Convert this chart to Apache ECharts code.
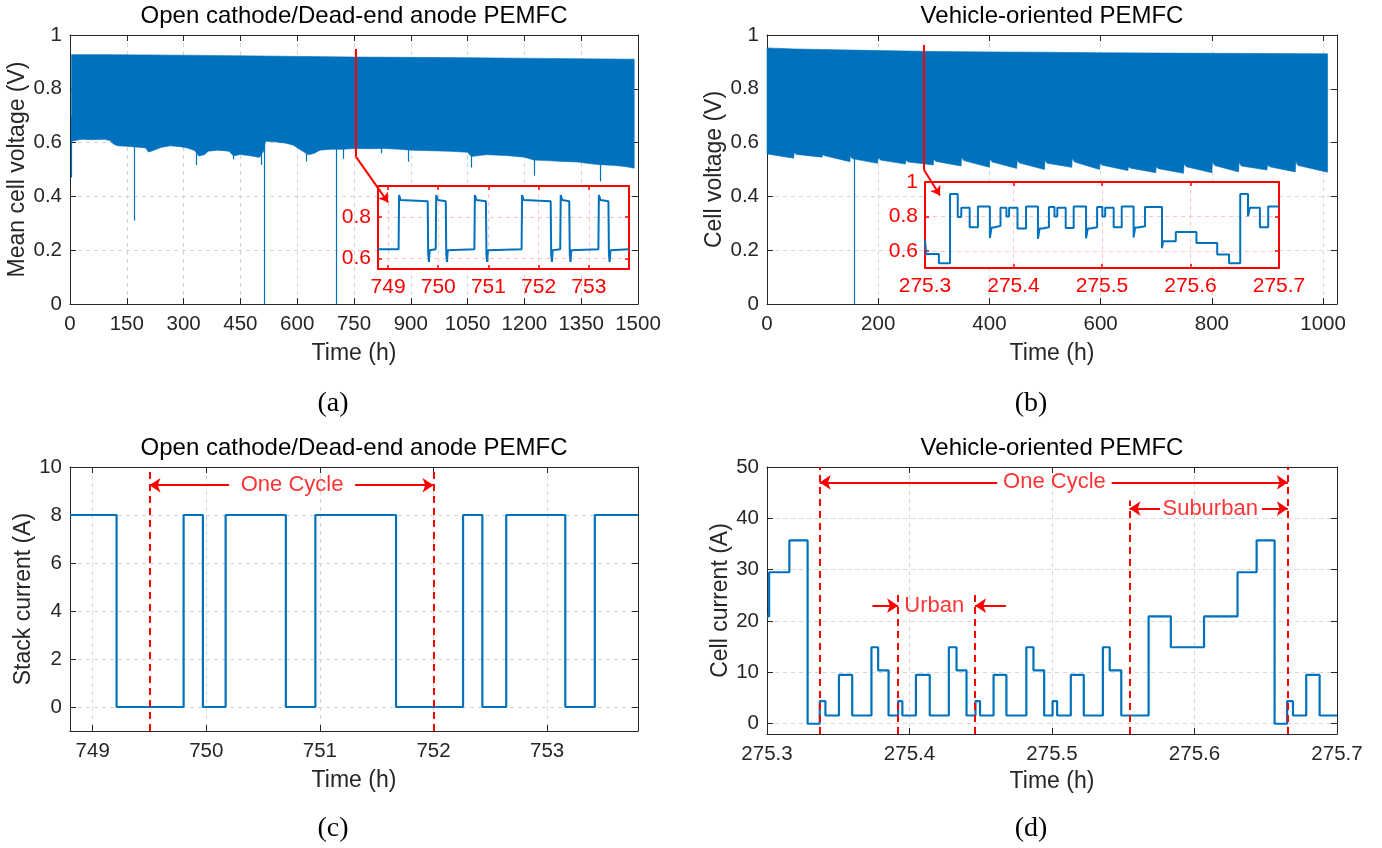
<!DOCTYPE html>
<html>
<head>
<meta charset="utf-8">
<script src="https://cdn.jsdelivr.net/npm/echarts@6/dist/echarts.min.js"></script>
<style>
  html, body { margin: 0; padding: 0; background: #fff; }
  #chart { width: 1382px; height: 848px; }
</style>
</head>
<body>
<div id="chart"></div>
<script>
// ---------------- data ----------------
// (a) open cathode / dead-end anode stack: envelope of the mean cell voltage band (h, V)
const aUpperTime = [4, 100, 300, 500, 750, 1000, 1250, 1490];
const aUpperVolt = [0.927, 0.927, 0.925, 0.922, 0.918, 0.916, 0.913, 0.910];
const aLowerTime = [4, 30, 60, 90, 105, 115, 125, 150, 180, 200, 207, 215, 240, 265, 290, 310, 330, 340, 355, 365, 390, 420, 432, 450, 480, 500, 512, 516, 540, 570, 590, 610, 630, 645, 660, 690, 720, 750, 790, 830, 870, 900, 950, 1000, 1050, 1060, 1080, 1100, 1150, 1200, 1225, 1260, 1300, 1340, 1370, 1400, 1440, 1470, 1490];
const aLowerVolt = [0.605, 0.612, 0.611, 0.612, 0.608, 0.595, 0.588, 0.586, 0.583, 0.580, 0.565, 0.568, 0.582, 0.588, 0.585, 0.580, 0.570, 0.550, 0.555, 0.568, 0.572, 0.568, 0.550, 0.556, 0.550, 0.545, 0.570, 0.605, 0.603, 0.598, 0.590, 0.572, 0.555, 0.560, 0.572, 0.575, 0.575, 0.578, 0.577, 0.578, 0.575, 0.572, 0.570, 0.568, 0.564, 0.548, 0.552, 0.555, 0.552, 0.546, 0.535, 0.533, 0.530, 0.528, 0.522, 0.518, 0.515, 0.510, 0.505];
// isolated downward spikes below the band (h, lowest V)
const aSpikeTime = [3, 169, 334, 431, 504, 512, 625, 704, 722, 823, 892, 1059, 1226, 1400];
const aSpikeVolt = [0.47, 0.31, 0.517, 0.538, 0.517, 0, 0.53, 0, 0.54, 0.56, 0.529, 0.507, 0.477, 0.455];

// (b) vehicle-oriented stack: cell voltage band (h, V)
const bUpperTime = [0, 50, 100, 200, 300, 400, 500, 600, 800, 1008];
const bUpperVolt = [0.952, 0.948, 0.946, 0.942, 0.939, 0.937, 0.936, 0.934, 0.932, 0.930];
const bLowerTime = [0, 48, 49, 53, 99, 100, 104, 149, 150, 154, 199, 200, 204, 249, 250, 254, 299, 300, 304, 349, 350, 354, 400, 401, 405, 449, 450, 454, 499, 500, 504, 548, 549, 553, 598, 599, 603, 649, 650, 654, 699, 700, 704, 749, 750, 754, 800, 801, 805, 848, 849, 853, 899, 900, 904, 950, 951, 955, 1008];
const bLowerVolt = [0.558, 0.542, 0.563, 0.556, 0.546, 0.555, 0.551, 0.529, 0.548, 0.540, 0.523, 0.544, 0.535, 0.520, 0.535, 0.528, 0.517, 0.538, 0.530, 0.513, 0.545, 0.533, 0.508, 0.538, 0.528, 0.504, 0.533, 0.524, 0.500, 0.533, 0.523, 0.508, 0.542, 0.528, 0.500, 0.523, 0.516, 0.496, 0.510, 0.505, 0.488, 0.510, 0.503, 0.486, 0.520, 0.510, 0.488, 0.529, 0.515, 0.491, 0.527, 0.513, 0.498, 0.517, 0.510, 0.491, 0.529, 0.515, 0.490];
const bSpikeTime = [156];
const bSpikeVolt = [0];

// (a) inset: voltage over one cycle window (h, V)
const aInsetTime = [748.80, 749.21, 749.22, 749.25, 749.79, 749.80, 749.815, 749.83, 749.95, 749.96, 749.99, 750.15, 750.16, 750.175, 750.19, 750.72, 750.73, 750.76, 750.95, 750.96, 750.975, 750.99, 751.66, 751.67, 751.70, 752.24, 752.25, 752.265, 752.28, 752.43, 752.44, 752.47, 752.61, 752.62, 752.635, 752.65, 753.19, 753.20, 753.23, 753.39, 753.40, 753.415, 753.43, 753.80];
const aInsetVolt = [0.645, 0.645, 0.907, 0.882, 0.877, 0.620, 0.584, 0.640, 0.645, 0.907, 0.882, 0.877, 0.620, 0.584, 0.640, 0.645, 0.907, 0.882, 0.877, 0.620, 0.584, 0.640, 0.645, 0.907, 0.882, 0.877, 0.620, 0.584, 0.640, 0.645, 0.907, 0.882, 0.877, 0.620, 0.584, 0.640, 0.645, 0.907, 0.882, 0.877, 0.620, 0.584, 0.640, 0.645];

// (b) inset: cell voltage over one drive cycle (h, V), held until the next entry
const bInsetTime = [275.3000, 275.3012, 275.3157, 275.3283, 275.3370, 275.3410, 275.3505, 275.3598, 275.3733, 275.3752, 275.3780, 275.3853, 275.3920, 275.3950, 275.4045, 275.4142, 275.4276, 275.4295, 275.4330, 275.4400, 275.4463, 275.4495, 275.4590, 275.4680, 275.4820, 275.4840, 275.4870, 275.4945, 275.5004, 275.5036, 275.5132, 275.5223, 275.5357, 275.5375, 275.5405, 275.5486, 275.5678, 275.5690, 275.5834, 275.6067, 275.6302, 275.6436, 275.6562, 275.6650, 275.6670, 275.6784, 275.6878, 275.7000];
const bInsetVolt = [0.665, 0.582, 0.527, 0.930, 0.796, 0.851, 0.737, 0.857, 0.675, 0.735, 0.745, 0.851, 0.800, 0.851, 0.730, 0.857, 0.670, 0.730, 0.737, 0.855, 0.800, 0.851, 0.733, 0.857, 0.672, 0.730, 0.737, 0.855, 0.800, 0.851, 0.737, 0.857, 0.678, 0.735, 0.743, 0.855, 0.615, 0.655, 0.710, 0.645, 0.578, 0.527, 0.930, 0.800, 0.851, 0.737, 0.857, 0.857];

// (c) stack current profile (h, A), held until the next entry
const cTime = [748.8, 749.21, 749.80, 749.97, 750.17, 750.70, 750.96, 751.67, 752.26, 752.43, 752.64, 753.16, 753.42, 753.8];
const cCurrent = [8, 0, 8, 0, 8, 0, 8, 0, 8, 0, 8, 0, 8, 8];

// (d) cell current profile (h, A), held until the next entry
const dTime = [275.3000, 275.3015, 275.3157, 275.3285, 275.3370, 275.3410, 275.3505, 275.3598, 275.3733, 275.3780, 275.3853, 275.3920, 275.3950, 275.4045, 275.4142, 275.4276, 275.4330, 275.4400, 275.4463, 275.4495, 275.4590, 275.4680, 275.4820, 275.4870, 275.4945, 275.5004, 275.5036, 275.5132, 275.5223, 275.5357, 275.5405, 275.5486, 275.5678, 275.5834, 275.6067, 275.6302, 275.6436, 275.6562, 275.6650, 275.6691, 275.6784, 275.6878, 275.7000];
const dCurrent = [20.9, 29.5, 35.7, 0, 4.4, 1.6, 9.5, 1.6, 14.9, 10.4, 1.6, 4.4, 1.6, 9.5, 1.6, 14.9, 10.4, 1.6, 4.4, 1.6, 9.5, 1.6, 14.9, 10.4, 1.6, 4.4, 1.6, 9.5, 1.6, 14.9, 10.4, 1.6, 20.9, 14.9, 20.9, 29.5, 35.7, 0, 4.4, 1.6, 9.5, 1.6, 1.6];

// cycle markers
const cCycleBounds = [749.5, 752.0];
const dCycleBounds = [275.337, 275.6655];
const dUrbanBounds = [275.392, 275.446];
const dSuburbanStart = 275.5544;

// ---------------- styling ----------------
const BLUE = '#0072BD';
const RED = '#FF0000';
const AX = '#262626';
const GRIDC = '#d4d4d4';
const FONT = '"Liberation Sans", Arial, Helvetica, sans-serif';
const SERIF = '"Liberation Serif", "Times New Roman", serif';

const grids = [
  { left: 70,  top: 35,  width: 568, height: 269 },   // (a)
  { left: 767, top: 35,  width: 570, height: 269 },   // (b)
  { left: 70,  top: 467, width: 568, height: 264 },   // (c)
  { left: 767, top: 467, width: 570, height: 267 },   // (d)
  { left: 378, top: 186, width: 251, height: 83, z: 3, show: true, backgroundColor: '#fff', borderWidth: 0 },  // (a) inset
  { left: 925, top: 182, width: 354, height: 86, z: 3, show: true, backgroundColor: '#fff', borderWidth: 0 }   // (b) inset
].map(g => Object.assign({ containLabel: false, outerBoundsMode: 'none' }, g));

const xAxes = [];
const yAxes = [];

function fmtStep(step, digits) {
  return v => {
    const k = v / step;
    if (Math.abs(k - Math.round(k)) > 1e-6) return '';
    return String(Number(v.toFixed(digits)));
  };
}

function addAxes(g, xs, ys, inset) {
  const col = inset ? RED : AX;
  const lw = inset ? 2 : 1;
  const z = inset ? 4 : 0;
  const split = { show: true, lineStyle: { color: inset ? '#ffc4c4' : GRIDC, type: [4, 4], width: 1 } };
  const tick = { show: true, inside: true, length: inset ? 4 : 6, lineStyle: { color: col, width: inset ? 1.5 : 1 } };
  const line = { show: true, onZero: false, lineStyle: { color: col, width: lw } };
  const nameStyle = { fontSize: 23, color: AX, fontFamily: FONT };
  const fs = inset ? 21 : 20.5;
  xAxes.push(Object.assign({
    type: 'value', gridIndex: g, position: 'bottom', z,
    axisLine: line, axisTick: tick, splitLine: split,
    axisLabel: { show: true, color: col, fontSize: fs, fontFamily: FONT, margin: inset ? 8 : 10, formatter: xs.fmt, showMinLabel: true, showMaxLabel: true },
    name: xs.name || '', nameLocation: 'middle', nameGap: xs.gap || 38, nameTextStyle: nameStyle
  }, xs.scale));
  xAxes.push(Object.assign({
    type: 'value', gridIndex: g, position: 'top', z,
    axisLine: line, axisTick: tick, splitLine: { show: false }, axisLabel: { show: false }
  }, xs.scale));
  yAxes.push(Object.assign({
    type: 'value', gridIndex: g, position: 'left', z,
    axisLine: line, axisTick: tick, splitLine: split,
    axisLabel: { show: true, color: col, fontSize: fs, fontFamily: FONT, margin: inset ? 7 : 8, formatter: ys.fmt, showMinLabel: true, showMaxLabel: true },
    name: ys.name || '', nameLocation: 'middle', nameGap: ys.gap || 38, nameRotate: 90, nameTextStyle: nameStyle
  }, ys.scale));
  yAxes.push(Object.assign({
    type: 'value', gridIndex: g, position: 'right', z,
    axisLine: line, axisTick: tick, splitLine: { show: false }, axisLabel: { show: false }
  }, ys.scale));
}

addAxes(0,
  { name: 'Time (h)', gap: 38, scale: { min: 0, max: 1500, interval: 150 }, fmt: fmtStep(150, 0) },
  { name: 'Mean cell voltage (V)', gap: 35, scale: { min: 0, max: 1, interval: 0.2 }, fmt: fmtStep(0.2, 1) });
addAxes(1,
  { name: 'Time (h)', gap: 38, scale: { min: 0, max: 1025, interval: 200 }, fmt: fmtStep(200, 0) },
  { name: 'Cell voltage (V)', gap: 35, scale: { min: 0, max: 1, interval: 0.2 }, fmt: fmtStep(0.2, 1) });
addAxes(2,
  { name: 'Time (h)', gap: 38, scale: { min: 748.8, max: 753.8, minInterval: 1, maxInterval: 1 }, fmt: fmtStep(1, 0) },
  { name: 'Stack current (A)', gap: 35, scale: { min: -1, max: 10, minInterval: 2, maxInterval: 2 }, fmt: fmtStep(2, 0) });
addAxes(3,
  { name: 'Time (h)', gap: 36, scale: { min: 275.3, max: 275.7, interval: 0.1 }, fmt: v => v.toFixed(1) },
  { name: 'Cell current (A)', gap: 33, scale: { min: -2, max: 50, minInterval: 10, maxInterval: 10 }, fmt: fmtStep(10, 0) });
addAxes(4,
  { scale: { min: 748.8, max: 753.8, minInterval: 1, maxInterval: 1 }, fmt: fmtStep(1, 0) },
  { scale: { min: 0.55, max: 0.95, minInterval: 0.2, maxInterval: 0.2 }, fmt: fmtStep(0.2, 1) }, true);
addAxes(5,
  { scale: { min: 275.3, max: 275.7, interval: 0.1 }, fmt: v => v.toFixed(1) },
  { scale: { min: 0.5, max: 1.0, minInterval: 0.2, maxInterval: 0.2 }, fmt: fmtStep(0.2, 1) }, true);

// ---------------- series helpers ----------------
const zip = (xs, ys) => xs.map((x, i) => [x, ys[i]]);

function band(g, upT, upV, loT, loV) {
  return {
    type: 'custom', xAxisIndex: 2 * g, yAxisIndex: 2 * g, silent: true, z: 2,
    data: [[upT[0], upV[0]]],
    renderItem: (params, api) => {
      const pts = [];
      for (let i = 0; i < upT.length; i++) pts.push(api.coord([upT[i], upV[i]]));
      for (let i = loT.length - 1; i >= 0; i--) pts.push(api.coord([loT[i], loV[i]]));
      return { type: 'polygon', shape: { points: pts }, style: { fill: BLUE, stroke: BLUE, lineWidth: 0.6 } };
    }
  };
}

function segs(g, list, color, width, dashed, arrow, z, size) {
  return {
    type: 'lines', coordinateSystem: 'cartesian2d', xAxisIndex: 2 * g, yAxisIndex: 2 * g,
    silent: true, z: z || 6,
    symbol: arrow ? ['none', 'arrow'] : 'none', symbolSize: size || 11,
    lineStyle: { color, width, opacity: 1, type: dashed ? [7, 5] : 'solid' },
    data: list.map(c => ({ coords: c }))
  };
}

function text(g, x, y, str, z) {
  return {
    type: 'scatter', xAxisIndex: 2 * g, yAxisIndex: 2 * g, silent: true, z: z || 7,
    symbolSize: 0, data: [[x, y]],
    label: { show: true, position: 'inside', formatter: str, color: RED, fontSize: 22, fontFamily: FONT }
  };
}

function stepLine(g, t, v, step, z) {
  return {
    type: 'line', xAxisIndex: 2 * g, yAxisIndex: 2 * g, silent: true, z: z || 3,
    data: zip(t, v), step: step ? 'end' : false, showSymbol: false, animation: false,
    lineStyle: { color: BLUE, width: 2.2 }
  };
}

const series = [
  // (a) main
  band(0, aUpperTime, aUpperVolt, aLowerTime, aLowerVolt),
  segs(0, aSpikeTime.map((t, i) => [[t, 0.7], [t, aSpikeVolt[i]]]), BLUE, 1.2, false, false, 2),
  segs(0, [[[755, 0.948], [755, 0.548]]], RED, 2, false, false, 10),
  segs(0, [[[755, 0.548], [840, 0.378]]], RED, 2, false, true, 10, 9),
  // (b) main
  band(1, bUpperTime, bUpperVolt, bLowerTime, bLowerVolt),
  segs(1, bSpikeTime.map((t, i) => [[t, 0.7], [t, bSpikeVolt[i]]]), BLUE, 1.2, false, false, 2),
  segs(1, [[[282, 0.963], [282, 0.50]]], RED, 2, false, false, 10),
  segs(1, [[[282, 0.50], [311, 0.403]]], RED, 2, false, true, 10, 9),
  // (c)
  stepLine(2, cTime, cCurrent, true),
  segs(2, cCycleBounds.map(x => [[x, -1], [x, 10]]), RED, 2, true, false),
  segs(2, [[[750.2, 9.24], [cCycleBounds[0], 9.24]], [[751.31, 9.24], [cCycleBounds[1], 9.24]]], RED, 2, false, true),
  text(2, 750.755, 9.24, 'One Cycle'),
  // (d)
  stepLine(3, dTime, dCurrent, true),
  segs(3, [
    [[dCycleBounds[0], -2], [dCycleBounds[0], 50]],
    [[dCycleBounds[1], -2], [dCycleBounds[1], 50]],
    [[dSuburbanStart, -2], [dSuburbanStart, 43.5]],
    [[dUrbanBounds[0], -2], [dUrbanBounds[0], 26]],
    [[dUrbanBounds[1], -2], [dUrbanBounds[1], 26]]
  ], RED, 2, true, false),
  segs(3, [
    [[275.4616, 47], [dCycleBounds[0], 47]],
    [[275.5419, 47], [dCycleBounds[1], 47]],
    [[275.5758, 41.9], [dSuburbanStart, 41.9]],
    [[275.6473, 41.9], [dCycleBounds[1], 41.9]],
    [[275.374, 23], [dUrbanBounds[0], 23]],
    [[275.4676, 23], [dUrbanBounds[1], 23]]
  ], RED, 2, false, true),
  text(3, 275.5017, 47, 'One Cycle'),
  text(3, 275.611, 41.9, 'Suburban'),
  text(3, 275.4174, 23, 'Urban'),
  // insets
  Object.assign(stepLine(4, aInsetTime, aInsetVolt, false, 5), { lineStyle: { color: BLUE, width: 2 } }),
  Object.assign(stepLine(5, bInsetTime, bInsetVolt, true, 5), { lineStyle: { color: BLUE, width: 2 } })
];

// panel titles and captions
const titleText = (x, y, str) => ({
  type: 'text', x, y, silent: true,
  style: { text: str, fill: '#000', font: '24px ' + FONT, textAlign: 'center', textVerticalAlign: 'middle' }
});
const captionText = (x, y, str) => ({
  type: 'text', x, y, silent: true,
  style: { text: str, fill: '#000', font: '28px ' + SERIF, textAlign: 'center', textVerticalAlign: 'middle' }
});

const chart = echarts.init(document.getElementById('chart'), null, { renderer: 'canvas' });
chart.setOption({
  backgroundColor: '#fff',
  animation: false,
  grid: grids,
  xAxis: xAxes,
  yAxis: yAxes,
  series,
  graphic: [
    titleText(354, 16, 'Open cathode/Dead-end anode PEMFC'),
    titleText(1052, 16, 'Vehicle-oriented PEMFC'),
    titleText(354, 448, 'Open cathode/Dead-end anode PEMFC'),
    titleText(1052, 448, 'Vehicle-oriented PEMFC'),
    captionText(333, 404, '(a)'),
    captionText(1031, 404, '(b)'),
    captionText(333, 829, '(c)'),
    captionText(1031, 829, '(d)')
  ]
});
</script>
</body>
</html>
